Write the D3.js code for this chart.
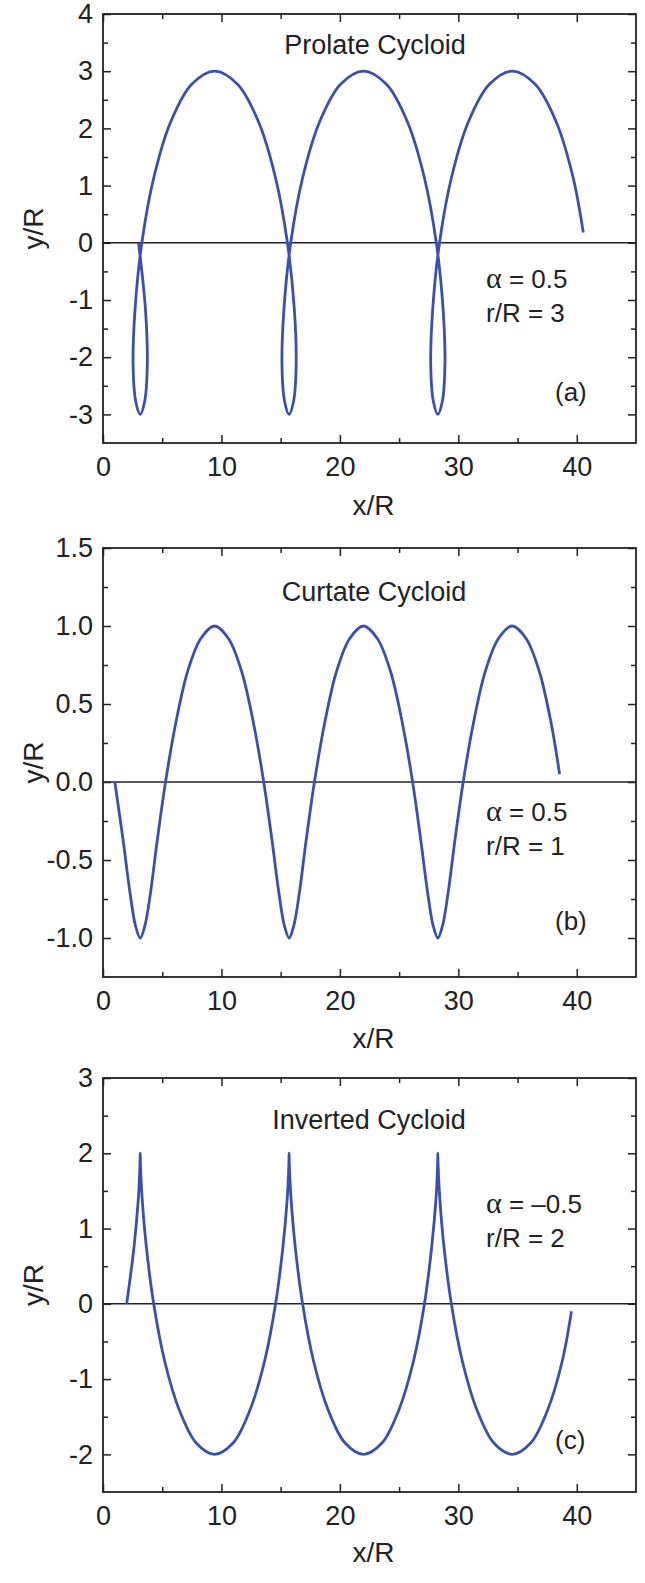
<!DOCTYPE html>
<html>
<head>
<meta charset="utf-8">
<script src="https://cdn.jsdelivr.net/npm/d3@7"></script>
<style>
body { margin: 0; background: #fff; }
text { font-family: "Liberation Sans", Arial, sans-serif; fill: #222; }
</style>
</head>
<body>
<div id="chart"></div>
<script>
// values (x/R, y/R)
const prolateX = [3.00, 3.58, 3.74, 3.52, 3.14, 2.76, 2.54, 2.71, 3.28, 4.30, 5.73, 7.49, 9.42, 11.36, 13.12, 14.55, 15.57,
  16.15, 16.31, 16.09, 15.71, 15.33, 15.11, 15.28, 15.85, 16.87, 18.30, 20.06, 21.99, 23.93, 25.69, 27.12, 28.14,
  28.71, 28.87, 28.65, 28.27, 27.89, 27.67, 27.84, 28.41, 29.43, 30.86, 32.62, 34.55, 36.49, 38.25, 39.68, 40.55];
const prolateY = [0, -1.15, -2.12, -2.77, -3, -2.77, -2.12, -1.15, 0, 1.15, 2.12, 2.77, 3, 2.77, 2.12, 1.15, 0,
  -1.15, -2.12, -2.77, -3, -2.77, -2.12, -1.15, 0, 1.15, 2.12, 2.77, 3, 2.77, 2.12, 1.15, 0,
  -1.15, -2.12, -2.77, -3, -2.77, -2.12, -1.15, 0, 1.15, 2.12, 2.77, 3, 2.77, 2.12, 1.15, 0.18];

const curtateX = [1.00, 1.71, 2.28, 2.74, 3.14, 3.54, 4.01, 4.57, 5.28, 6.15, 7.15, 8.26, 9.42, 10.59, 11.70, 12.70, 13.57,
  14.28, 14.85, 15.31, 15.71, 16.11, 16.58, 17.14, 17.85, 18.72, 19.72, 20.83, 21.99, 23.16, 24.27, 25.27, 26.14,
  26.84, 27.41, 27.87, 28.27, 28.67, 29.14, 29.70, 30.41, 31.28, 32.28, 33.39, 34.55, 35.72, 36.83, 37.83, 38.55];
const curtateY = [0, -0.38, -0.71, -0.92, -1, -0.92, -0.71, -0.38, 0, 0.38, 0.71, 0.92, 1, 0.92, 0.71, 0.38, 0,
  -0.38, -0.71, -0.92, -1, -0.92, -0.71, -0.38, 0, 0.38, 0.71, 0.92, 1, 0.92, 0.71, 0.38, 0,
  -0.38, -0.71, -0.92, -1, -0.92, -0.71, -0.38, 0, 0.38, 0.71, 0.92, 1, 0.92, 0.71, 0.38, 0.05];

const invertedX = [2.00, 2.63, 2.99, 3.12, 3.14, 3.16, 3.30, 3.65, 4.28, 5.22, 6.44, 7.87, 9.42, 10.98, 12.41, 13.63, 14.57,
  15.20, 15.56, 15.69, 15.71, 15.73, 15.87, 16.22, 16.85, 17.79, 19.01, 20.44, 21.99, 23.55, 24.98, 26.20, 27.14,
  27.76, 28.12, 28.25, 28.27, 28.29, 28.43, 28.78, 29.41, 30.35, 31.57, 33.00, 34.55, 36.11, 37.54, 38.76, 39.55];
const invertedY = [0, 0.77, 1.41, 1.85, 2, 1.85, 1.41, 0.77, 0, -0.77, -1.41, -1.85, -2, -1.85, -1.41, -0.77, 0,
  0.77, 1.41, 1.85, 2, 1.85, 1.41, 0.77, 0, -0.77, -1.41, -1.85, -2, -1.85, -1.41, -0.77, 0,
  0.77, 1.41, 1.85, 2, 1.85, 1.41, 0.77, 0, -0.77, -1.41, -1.85, -2, -1.85, -1.41, -0.77, -0.1];

const xTicks = [0, 10, 20, 30, 40];
const xMinor = [5, 15, 25, 35];
const yTicksA = [-3, -2, -1, 0, 1, 2, 3, 4];
const yMinorA = [-2.5, -1.5, -0.5, 0.5, 1.5, 2.5, 3.5];
const yTicksB = [-1, -0.5, 0, 0.5, 1, 1.5];
const yMinorB = [-0.75, -0.25, 0.25, 0.75, 1.25];
const yTicksC = [-2, -1, 0, 1, 2, 3];
const yMinorC = [-1.5, -0.5, 0.5, 1.5, 2.5];

const width = 645, height = 1583;
const left = 103, right = 636;
const lineColor = "#3a50ae";

const svg = d3.select("#chart")
  .append("svg")
  .attr("width", width)
  .attr("height", height);

const x = d3.scaleLinear().domain([0, 45]).range([left, right]);

const panels = [
  { top: 14, bottom: 443, domain: [-3.5, 4], ticks: yTicksA, minor: yMinorA, fmt: d => String(d),
    xs: prolateX, ys: prolateY, title: "Prolate Cycloid", titleX: 375, titleY: 54,
    alpha: "0.5", ratio: "3", annY: 288, letter: "(a)", letterY: 401, xLabelY: 515 },
  { top: 548, bottom: 977, domain: [-1.25, 1.5], ticks: yTicksB, minor: yMinorB, fmt: d => d.toFixed(1),
    xs: curtateX, ys: curtateY, title: "Curtate Cycloid", titleX: 374, titleY: 601,
    alpha: "0.5", ratio: "1", annY: 821, letter: "(b)", letterY: 930, xLabelY: 1048 },
  { top: 1078, bottom: 1492, domain: [-2.5, 3], ticks: yTicksC, minor: yMinorC, fmt: d => String(d),
    xs: invertedX, ys: invertedY, title: "Inverted Cycloid", titleX: 369, titleY: 1129,
    alpha: "\u20130.5", ratio: "2", annY: 1213, letter: "(c)", letterY: 1449, xLabelY: 1562 }
];

panels.forEach(p => {
  const y = d3.scaleLinear().domain(p.domain).range([p.bottom, p.top]);
  const g = svg.append("g");

  // zero line
  g.append("line")
    .attr("x1", left).attr("x2", right)
    .attr("y1", y(0)).attr("y2", y(0))
    .attr("stroke", "#222").attr("stroke-width", 1.5);

  // curve
  const line = d3.line()
    .x(i => x(p.xs[i]))
    .y(i => y(p.ys[i]))
    .curve(d3.curveCatmullRom.alpha(0.5));

  g.append("path")
    .datum(d3.range(p.xs.length))
    .attr("fill", "none")
    .attr("stroke", lineColor)
    .attr("stroke-width", 2.8)
    .attr("d", line);

  // axes, ticks pointing inward
  const styleAxis = sel => {
    sel.select(".domain").remove();
    sel.selectAll(".tick line").attr("stroke", "#222").attr("stroke-width", 1.5);
    sel.selectAll("text").attr("font-family", "Liberation Sans, Arial, sans-serif")
      .attr("font-size", 27).attr("fill", "#222");
  };

  g.append("g").attr("transform", `translate(0,${p.bottom})`)
    .call(d3.axisBottom(x).tickValues(xTicks).tickSize(-8).tickPadding(14).tickFormat(d => d))
    .call(styleAxis);
  g.append("g").attr("transform", `translate(0,${p.bottom})`)
    .call(d3.axisBottom(x).tickValues(xMinor).tickSize(-5).tickFormat(""))
    .call(styleAxis);
  g.append("g").attr("transform", `translate(0,${p.top})`)
    .call(d3.axisTop(x).tickValues(xTicks).tickSize(-8).tickFormat(""))
    .call(styleAxis);
  g.append("g").attr("transform", `translate(0,${p.top})`)
    .call(d3.axisTop(x).tickValues(xMinor).tickSize(-5).tickFormat(""))
    .call(styleAxis);

  g.append("g").attr("transform", `translate(${left},0)`)
    .call(d3.axisLeft(y).tickValues(p.ticks).tickSize(-8).tickPadding(10).tickFormat(p.fmt))
    .call(styleAxis);
  g.append("g").attr("transform", `translate(${left},0)`)
    .call(d3.axisLeft(y).tickValues(p.minor).tickSize(-5).tickFormat(""))
    .call(styleAxis);
  g.append("g").attr("transform", `translate(${right},0)`)
    .call(d3.axisRight(y).tickValues(p.ticks).tickSize(-8).tickFormat(""))
    .call(styleAxis);
  g.append("g").attr("transform", `translate(${right},0)`)
    .call(d3.axisRight(y).tickValues(p.minor).tickSize(-5).tickFormat(""))
    .call(styleAxis);

  // frame
  g.append("rect")
    .attr("x", left).attr("y", p.top)
    .attr("width", right - left).attr("height", p.bottom - p.top)
    .attr("fill", "none").attr("stroke", "#222").attr("stroke-width", 1.8);

  // labels
  g.append("text")
    .attr("x", (left + right) / 2 + 4).attr("y", p.xLabelY)
    .attr("text-anchor", "middle").attr("font-size", 28)
    .text("x/R");
  g.append("text")
    .attr("transform", `translate(43,${(p.top + p.bottom) / 2}) rotate(-90)`)
    .attr("text-anchor", "middle").attr("font-size", 28)
    .text("y/R");

  g.append("text")
    .attr("x", p.titleX).attr("y", p.titleY)
    .attr("text-anchor", "middle").attr("font-size", 27)
    .text(p.title);

  const a = g.append("text").attr("x", 486).attr("y", p.annY).attr("font-size", 26);
  a.append("tspan").attr("font-family", "Liberation Serif, serif").attr("font-size", 30).text("\u03b1");
  a.append("tspan").text(" = " + p.alpha);
  g.append("text").attr("x", 486).attr("y", p.annY + 34).attr("font-size", 26)
    .text("r/R = " + p.ratio);

  g.append("text")
    .attr("x", 555).attr("y", p.letterY).attr("font-size", 26)
    .text(p.letter);
});
</script>
</body>
</html>
